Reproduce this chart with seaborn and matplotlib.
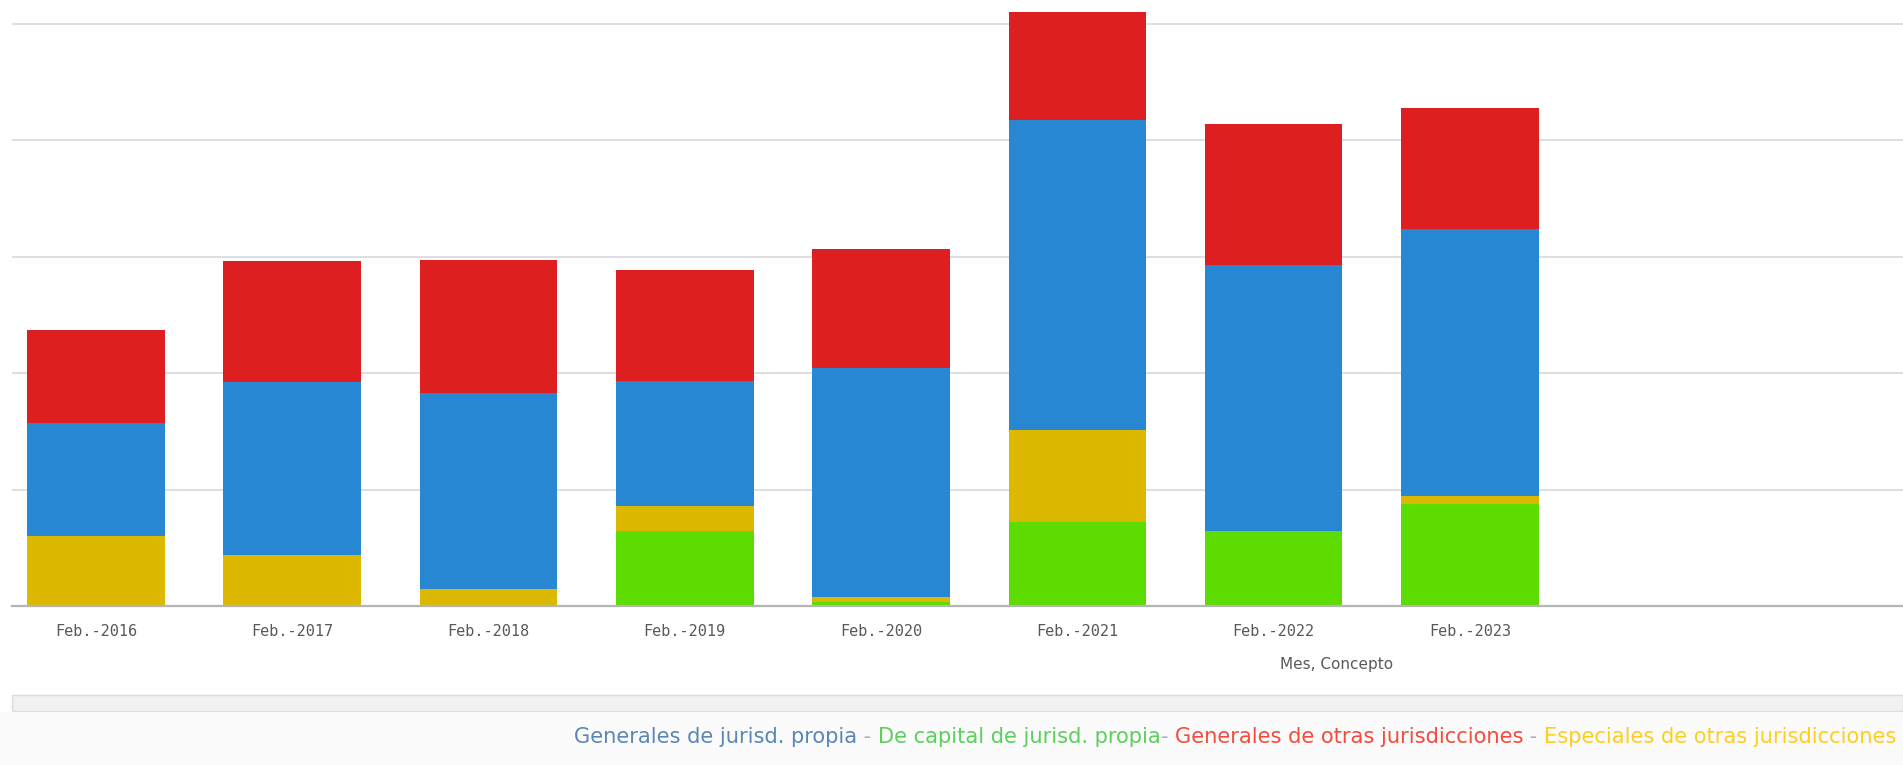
import matplotlib
matplotlib.use("Agg")
import matplotlib.pyplot as plt
from matplotlib.patches import Rectangle
import numpy as np
import pandas as pd
import seaborn as sns

# ---- data (arbitrary units; the reference has no y-axis labels) ----
categorias = ["Feb.-2016", "Feb.-2017", "Feb.-2018", "Feb.-2019",
              "Feb.-2020", "Feb.-2021", "Feb.-2022", "Feb.-2023"]
de_capital_propia = [0.00, 0.00, 0.00, 0.64, 0.035, 0.72, 0.64, 0.875]
especiales_otras = [0.60, 0.44, 0.15, 0.22, 0.04, 0.79, 0.00, 0.07]
generales_propia = [0.97, 1.48, 1.68, 1.07, 1.97, 2.66, 2.29, 2.29]
generales_otras = [0.80, 1.04, 1.14, 0.95, 1.02, 0.93, 1.21, 1.04]

series_names = ["De capital de jurisd. propia", "Especiales de otras jurisdicciones",
                "Generales de jurisd. propia", "Generales de otras jurisdicciones"]
bar_colors = ["#5cdc00", "#dcb900", "#2887d3", "#dd1f22"]

df = pd.DataFrame({
    "Mes": categorias,
    series_names[0]: de_capital_propia,
    series_names[1]: especiales_otras,
    series_names[2]: generales_propia,
    series_names[3]: generales_otras,
})

# cumulative stacks (bottom -> top)
cum = df[series_names].cumsum(axis=1)

W, H = 1903, 765
fig = plt.figure(figsize=(W / 100, H / 100), dpi=100)
fig.patch.set_facecolor("white")
sns.set_style("white")

ax = fig.add_axes([12 / W, 1 - 606 / H, 1 - 12 / W, 606 / H])
ax.set_facecolor("none")

# draw tallest cumulative first so lower layers overlay it
for name, color in reversed(list(zip(series_names, bar_colors))):
    sns.barplot(x=df["Mes"], y=cum[name], color=color, width=0.70,
                linewidth=0, saturation=1, ax=ax, zorder=3)

ax.set_ylim(0, 606 / 116.5)
ax.set_xlim(-0.427, 9.205)
ax.set_yticks([1, 2, 3, 4, 5])
ax.yaxis.grid(True, color="#d9d9d9", linewidth=1.2, zorder=0)
ax.set_axisbelow(True)
ax.tick_params(axis="y", left=False, labelleft=False)
ax.tick_params(axis="x", length=0, pad=13, labelsize=11, labelcolor="#595959")
for lab in ax.get_xticklabels():
    lab.set_family("DejaVu Sans Mono")
ax.set_xlabel("")
ax.set_ylabel("")
for s in ["top", "right", "left"]:
    ax.spines[s].set_visible(False)
ax.spines["bottom"].set_color("#b5b5b5")
ax.spines["bottom"].set_linewidth(1.6)
ax.spines["bottom"].set_zorder(4)

fig.text(1337 / W, 1 - 665 / H, "Mes, Concepto", ha="center", va="center",
         fontsize=11, color="#595959", family="DejaVu Sans")

# scrollbar-like grey band
fig.patches.append(Rectangle((12 / W, 1 - 711 / H), 1 - 12 / W, 16 / H,
                             transform=fig.transFigure, facecolor="#f1f1f1",
                             edgecolor="#dcdcdc", linewidth=1))
# legend area background
fig.patches.append(Rectangle((0, 0), 1, 1 - 712 / H, transform=fig.transFigure,
                             facecolor="#fbfbfb", edgecolor="none"))

# coloured text legend
legend_parts = [
    ("Generales de jurisd. propia", "#5a86b8"),
    (" - ", "#9ab6d6"),
    ("De capital de jurisd. propia", "#5ccf5c"),
    ("- ", "#9ab6d6"),
    ("Generales de otras jurisdicciones", "#f64a3c"),
    (" - ", "#9ab6d6"),
    ("Especiales de otras jurisdicciones", "#ffcd1c"),
]
fig.canvas.draw()
renderer = fig.canvas.get_renderer()

# measure at a base size, then fit to the reference span (574 px -> 1896 px)
base = 13.5
probe = fig.text(0, 0, "".join(p for p, _ in legend_parts), fontsize=base,
                 family="DejaVu Sans")
total_w = probe.get_window_extent(renderer=renderer).width
probe.remove()
fs = base * (1896 - 574) / total_w

x_px = 574
y_fig = 1 - 737 / H
for txt, col in legend_parts:
    t = fig.text(x_px / W, y_fig, txt, ha="left", va="center", fontsize=fs,
                 color=col, family="DejaVu Sans")
    bb = t.get_window_extent(renderer=renderer)
    x_px += bb.width

fig.savefig("out.png", dpi=100, facecolor="white")
